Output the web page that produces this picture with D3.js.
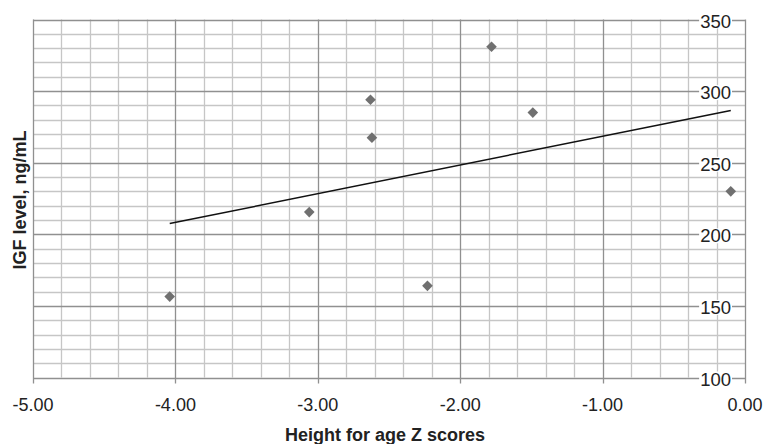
<!DOCTYPE html>
<html>
<head>
<meta charset="utf-8">
<script src="https://cdn.jsdelivr.net/npm/d3@7"></script>
<style>
  html, body { margin: 0; padding: 0; background: #fff; }
  svg { display: block; }
  text { font-family: "Liberation Sans", Arial, Helvetica, sans-serif; fill: #222; }
</style>
</head>
<body>
<svg id="chart" width="769" height="444"></svg>
<script>
// ---- data ----
const zScores   = [-4.04, -3.06, -2.63, -2.62, -2.23, -1.78, -1.49, -0.10];
const igfLevels = [156.5, 215.5, 294.0, 267.5, 164.0, 331.0, 285.0, 230.0];
const trendX    = [-4.04, -0.10];
const trendY    = [207.5, 286.5];
const xTicks    = [-5, -4, -3, -2, -1, 0];
const yTicks    = [100, 150, 200, 250, 300, 350];
const xTitle    = "Height for age Z scores";
const yTitle    = "IGF level, ng/mL";

// ---- layout ----
const svg = d3.select("#chart");
const x = d3.scaleLinear().domain([-5, 0]).range([33, 745]);
const y = d3.scaleLinear().domain([100, 350]).range([377.5, 19.5]);

const minorX = d3.range(-5, 0.0001, 0.2).map(v => Math.round(v * 100) / 100).filter(v => !xTicks.includes(v));
const minorY = d3.range(100, 350.001, 10).filter(v => !yTicks.includes(v));

const grid = svg.append("g");
grid.selectAll(".mx").data(minorX).enter().append("line")
  .attr("x1", d => Math.round(x(d)) + 0.5).attr("x2", d => Math.round(x(d)) + 0.5)
  .attr("y1", y(350)).attr("y2", y(100))
  .attr("stroke", "#c6c6c6").attr("stroke-width", 1.3);
grid.selectAll(".my").data(minorY).enter().append("line")
  .attr("y1", d => Math.round(y(d)) + 0.5).attr("y2", d => Math.round(y(d)) + 0.5)
  .attr("x1", x(-5)).attr("x2", x(0))
  .attr("stroke", "#c6c6c6").attr("stroke-width", 1.3);
grid.selectAll(".Mx").data(xTicks).enter().append("line")
  .attr("x1", d => Math.round(x(d)) + 0.5).attr("x2", d => Math.round(x(d)) + 0.5)
  .attr("y1", y(350)).attr("y2", y(100) + 6)
  .attr("stroke", "#909090").attr("stroke-width", 1.3);
grid.selectAll(".My").data(yTicks).enter().append("line")
  .attr("y1", d => Math.round(y(d)) + 0.5).attr("y2", d => Math.round(y(d)) + 0.5)
  .attr("x1", x(-5)).attr("x2", x(0))
  .attr("stroke", "#909090").attr("stroke-width", 1.3);

// x axis labels (hyphen-minus like the original)
const fmt = d => d3.format(".2f")(d).replace("\u2212", "-");
svg.append("g").selectAll("text").data(xTicks).enter().append("text")
  .attr("x", d => x(d)).attr("y", 411)
  .attr("text-anchor", "middle").attr("font-size", 18)
  .text(d => fmt(d));

// y axis labels (inside, left of right axis, with white background)
const yl = svg.append("g");
yTicks.forEach(v => {
  const g = yl.append("g");
  const t = g.append("text")
    .attr("x", x(0) - 14).attr("y", y(v) + 8)
    .attr("text-anchor", "end").attr("font-size", 18.5)
    .text(v);
  const bb = t.node().getBBox();
  g.insert("rect", "text")
    .attr("x", bb.x - 1).attr("y", bb.y + 3)
    .attr("width", bb.width + 2).attr("height", bb.height - 6)
    .attr("fill", "#fff");
});

// trend line
svg.append("line")
  .attr("x1", x(trendX[0])).attr("y1", y(trendY[0]))
  .attr("x2", x(trendX[1])).attr("y2", y(trendY[1]))
  .attr("stroke", "#111").attr("stroke-width", 1.5);

// points (diamonds)
const sym = d3.symbol().type(d3.symbolDiamond2).size(72);
svg.append("g").selectAll("path").data(zScores).enter().append("path")
  .attr("d", sym)
  .attr("transform", (d, i) => `translate(${x(d)},${y(igfLevels[i])})`)
  .attr("fill", "#707070");

// titles
svg.append("text")
  .attr("x", 385).attr("y", 441)
  .attr("text-anchor", "middle").attr("font-size", 18).attr("font-weight", "bold")
  .text(xTitle);
svg.append("text")
  .attr("transform", "translate(26,200) rotate(-90)")
  .attr("text-anchor", "middle").attr("font-size", 18).attr("font-weight", "bold")
  .text(yTitle);
</script>
</body>
</html>
